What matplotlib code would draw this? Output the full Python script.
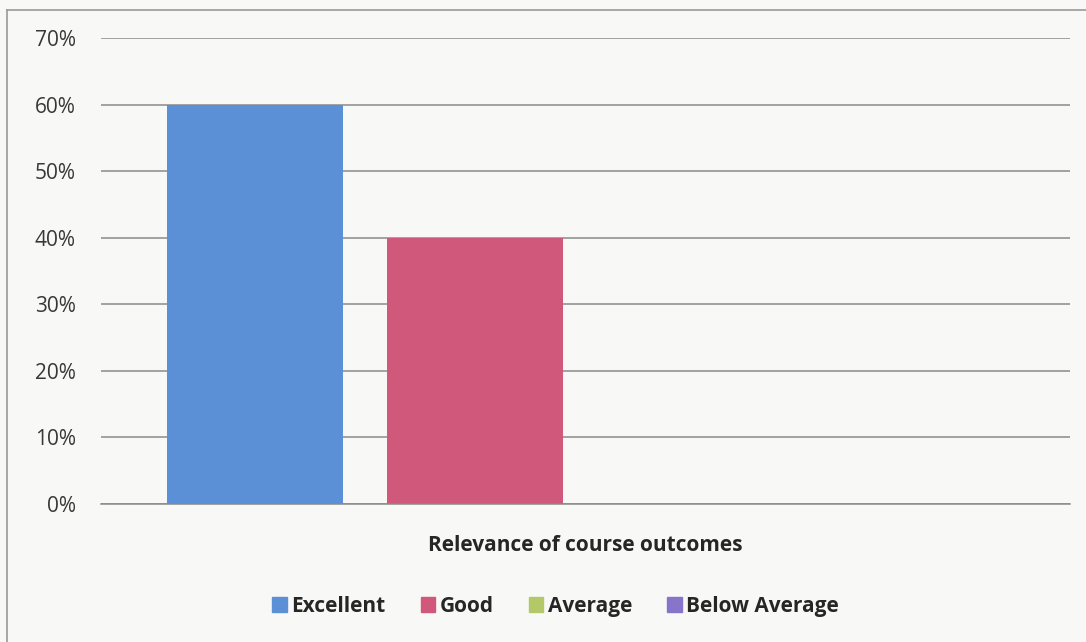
import numpy as np
import matplotlib.pyplot as plt
from matplotlib.lines import Line2D

plt.rcParams['font.family'] = ['Open Sans', 'DejaVu Sans']

# data
categories = ['Relevance of course outcomes']
series = ['Excellent', 'Good', 'Average', 'Below Average']
values = [60, 40, 0, 0]
colors = ['#5B8FD6', '#D0587A', '#B3C867', '#8675CB']
yticks = [0, 10, 20, 30, 40, 50, 60, 70]

bg = '#F8F8F7'
fig = plt.figure(figsize=(10.86, 6.42), dpi=100, facecolor=bg)
ax = fig.add_axes([0.093, 0.215, 0.8923, 0.7257], facecolor=bg)

step = 0.2273
width = 0.1818
offsets = (np.arange(len(series)) - 1.5) * step
for off, name, val, col in zip(offsets, series, values, colors):
    ax.bar(off, val, width=width, color=col, label=name, zorder=2)

ax.set_xlim(-0.5, 0.5)
ax.set_ylim(0, 70)
ax.set_yticks(yticks)
ax.set_yticklabels([f'{t}%' for t in yticks], fontsize=15, color='#383838')
ax.set_xticks([])
ax.tick_params(axis='y', length=0, pad=18)
ax.grid(axis='y', color='#8a8a8a', linewidth=1.1, zorder=0)
for s in ['top', 'right', 'left']:
    ax.spines[s].set_visible(False)
ax.spines['bottom'].set_color('#8a8a8a')
ax.spines['bottom'].set_linewidth(1.1)

ax.set_xlabel(categories[0], fontsize=15, fontweight='bold', color='#262626', labelpad=22)

handles = [plt.Rectangle((0, 0), 1, 1, color=c) for c in colors]
fig.legend(handles, series, loc='center', bbox_to_anchor=(0.5115, 0.056), ncol=4,
           frameon=False, prop={'weight': 'bold', 'size': 15},
           handlelength=0.7, handleheight=0.7, handletextpad=0.2, columnspacing=1.7,
           labelcolor='#262626')

# scanned frame edges (left and top)
fig.add_artist(Line2D([0.006, 0.006], [0.0, 0.985], transform=fig.transFigure, color='#9a9a9a', lw=1.2))
fig.add_artist(Line2D([0.006, 1.0], [0.985, 0.985], transform=fig.transFigure, color='#9a9a9a', lw=1.2))

fig.savefig('out.png', dpi=100, facecolor=bg)
